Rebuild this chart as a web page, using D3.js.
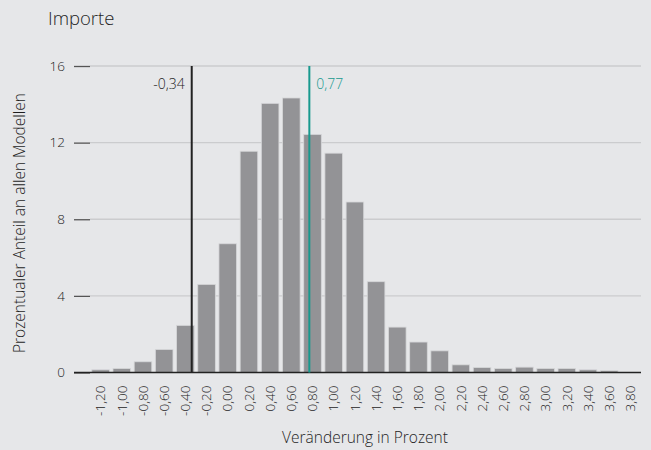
<!DOCTYPE html>
<html>
<head>
<meta charset="utf-8">
<script src="https://cdn.jsdelivr.net/npm/d3@7"></script>
<style>
  body { margin: 0; background: #e6e7e9; }
  text { font-family: "Open Sans", "Noto Sans", sans-serif; font-weight: 300; fill: #1e1e1e; }
</style>
</head>
<body>
<div id="chart"></div>
<script>
// Data
var categories = ["-1,20", "-1,00", "-0,80", "-0,60", "-0,40", "-0,20", "0,00", "0,20", "0,40",
  "0,60", "0,80", "1,00", "1,20", "1,40", "1,60", "1,80", "2,00", "2,20", "2,40", "2,60",
  "2,80", "3,00", "3,20", "3,40", "3,60", "3,80"];
var shares = [0.14, 0.21, 0.56, 1.2, 2.46, 4.6, 6.72, 11.55, 14.05, 14.33, 12.43, 11.45, 8.9,
  4.74, 2.37, 1.59, 1.13, 0.4, 0.26, 0.21, 0.28, 0.21, 0.21, 0.14, 0.09, 0];
var yTicks = [0, 4, 8, 12, 16];
var markers = [
  { value: -0.34, label: "-0,34", color: "#222222", side: "left" },
  { value: 0.77, label: "0,77", color: "#17998e", side: "right" }
];
var firstValue = -1.2, binStep = 0.2;

var svgWidth = 651;
var svgHeight = 450;
var margin = { left: 90, right: 10, top: 66 };
var plotRight = 641;
var baseY = 372.5;

var svg = d3.select("#chart")
  .append("svg")
  .attr("width", svgWidth)
  .attr("height", svgHeight);

// Scales
var x = d3.scaleBand()
  .domain(categories)
  .range([margin.left, plotRight])
  .paddingInner(0.17)
  .paddingOuter(0.085);

var y = d3.scaleLinear()
  .domain([0, 16])
  .range([baseY, margin.top]);

// linear scale for marker lines, aligned with band centers
var firstCenter = x(categories[0]) + x.bandwidth() / 2;
var xVal = d3.scaleLinear()
  .domain([firstValue, firstValue + binStep])
  .range([firstCenter, firstCenter + x.step()]);

// Title
svg.append("text")
  .attr("x", 48)
  .attr("y", 25)
  .style("font-size", "18.5px")
  .text("Importe");

// Gridlines
svg.append("g")
  .selectAll("line")
  .data(yTicks.filter(d => d > 0))
  .enter()
  .append("line")
  .attr("x1", margin.left)
  .attr("x2", plotRight)
  .attr("y1", d => y(d))
  .attr("y2", d => y(d))
  .attr("stroke", "#cbccce")
  .attr("stroke-width", 1.3);

// Y axis
var yAxis = svg.append("g")
  .attr("transform", `translate(${margin.left}, 0)`)
  .call(d3.axisLeft(y).tickValues(yTicks).tickSize(16).tickPadding(9));
yAxis.select(".domain").remove();
yAxis.selectAll(".tick line").attr("stroke", "#555").attr("stroke-width", 1.3);
yAxis.selectAll("text").style("font-size", "13.5px").attr("fill", "#1e1e1e");

// Bars
svg.append("g")
  .selectAll("rect")
  .data(shares)
  .enter()
  .append("rect")
  .attr("x", (d, i) => x(categories[i]))
  .attr("y", d => y(d))
  .attr("width", x.bandwidth())
  .attr("height", d => baseY - y(d))
  .attr("fill", "#939396")
  .attr("stroke", "#d6d7d9")
  .attr("stroke-width", 0.8);

// Baseline
svg.append("line")
  .attr("x1", 74)
  .attr("x2", plotRight)
  .attr("y1", baseY)
  .attr("y2", baseY)
  .attr("stroke", "#222")
  .attr("stroke-width", 1.5);

// X axis labels
var xAxis = svg.append("g")
  .attr("transform", `translate(0, ${baseY})`)
  .call(d3.axisBottom(x).tickSize(0).tickPadding(0));
xAxis.select(".domain").remove();
xAxis.selectAll("text")
  .attr("transform", "rotate(-90)")
  .attr("text-anchor", "end")
  .attr("x", -13)
  .attr("y", 0)
  .attr("dy", "0.35em")
  .style("font-size", "13.5px")
  .attr("fill", "#1e1e1e");

// Marker lines
markers.forEach(function(m) {
  svg.append("line")
    .attr("x1", xVal(m.value))
    .attr("x2", xVal(m.value))
    .attr("y1", y(16))
    .attr("y2", baseY)
    .attr("stroke", m.color)
    .attr("stroke-width", 2);
  svg.append("text")
    .attr("x", m.side === "left" ? xVal(m.value) - 7 : xVal(m.value) + 7)
    .attr("y", 89)
    .attr("text-anchor", m.side === "left" ? "end" : "start")
    .style("font-size", "14px")
    .style("fill", m.color === "#222222" ? "#1e1e1e" : m.color)
    .text(m.label);
});

// Axis titles
svg.append("text")
  .attr("transform", "rotate(-90)")
  .attr("x", -223)
  .attr("y", 25)
  .attr("text-anchor", "middle")
  .style("font-size", "15.5px")
  .text("Prozentualer Anteil an allen Modellen");

svg.append("text")
  .attr("x", 365)
  .attr("y", 443)
  .attr("text-anchor", "middle")
  .style("font-size", "15.5px")
  .text("Veränderung in Prozent");
</script>
</body>
</html>
